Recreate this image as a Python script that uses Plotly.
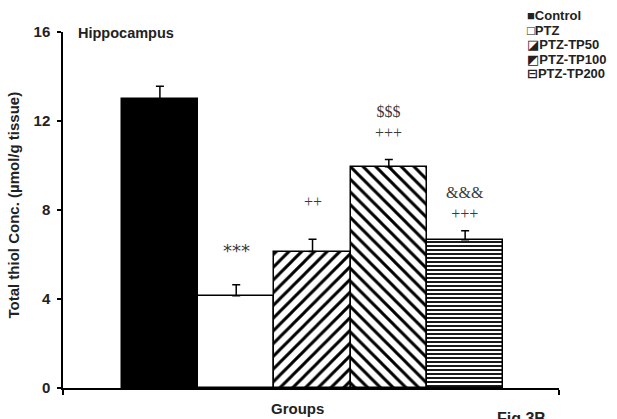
import plotly.graph_objects as go

groups = ["Control", "PTZ", "PTZ-TP50", "PTZ-TP100", "PTZ-TP200"]
means = [12.98, 4.15, 6.13, 9.94, 6.66]
sems = [0.58, 0.49, 0.56, 0.33, 0.41]
sig_labels = ["", "***", "++", "$$$<br>+++", "&&&<br>+++"]
sig_y = [None, 6.2, 8.36, 11.95, 8.3]
legend_glyphs = ["■", "□", "◪", "◩", "⊟"]

fills = ["black", "white", "white", "white", "white"]
shapes_pat = ["", "", "/", "\\", "-"]
pat_size = [8, 8, 9, 9, 4]
pat_sol = [0.3, 0.3, 0.33, 0.33, 0.45]

W, H = 617, 419
WX0, WX1, WY0, WY1 = 63, 559, 31.5, 388.5
L, R, T = WX0, W - WX1, WY0
B = H - WY1
pw, ph = WX1 - WX0, WY1 - WY0


def px(wx):
    return (wx - WX0) / pw


def py(wy):
    return (WY1 - wy) / ph


fig = go.Figure()
for i, g in enumerate(groups):
    fig.add_trace(go.Bar(
        x=[i], y=[means[i]], name=g, width=1.0,
        marker=dict(color=fills[i], line=dict(color="black", width=1.5),
                    pattern=dict(shape=shapes_pat[i], fgcolor="black", bgcolor="white",
                                 size=pat_size[i], solidity=pat_sol[i], fillmode="replace")),
        error_y=dict(type="data", array=[sems[i]], arrayminus=[0], symmetric=False,
                     color="black", thickness=1.5, width=4),
        showlegend=False,
    ))

annots = []
for i, s in enumerate(sig_labels):
    if not s:
        continue
    star = s.startswith("*")
    annots.append(dict(x=i, y=sig_y[i], xref="x", yref="y", text=s, showarrow=False,
                       font=dict(family="DejaVu Sans" if star else "Liberation Serif",
                                 size=18 if star else 16, color="#3a3a3a"),
                       align="center", xanchor="center", yanchor="middle"))

leg_y = [15, 30, 44.5, 59, 73.5]
for i, g in enumerate(groups):
    annots.append(dict(x=px(525), y=py(leg_y[i]), xref="paper", yref="paper",
                       text="<b>" + legend_glyphs[i] + g + "</b>", showarrow=False,
                       xanchor="left", yanchor="middle",
                       font=dict(family="Liberation Sans, DejaVu Sans", size=13, color="#222")))

annots.append(dict(x=px(76), y=py(33), xref="paper", yref="paper",
                   text="<b>Hippocampus</b>", showarrow=False, xanchor="left", yanchor="middle",
                   font=dict(family="Liberation Sans", size=14.5, color="#222")))
annots.append(dict(x=px(13.5), y=py(205), xref="paper", yref="paper",
                   text="<b>Total thiol Conc. (µmol/g tissue)</b>", showarrow=False, textangle=-90,
                   xanchor="center", yanchor="middle",
                   font=dict(family="Liberation Sans", size=15, color="#222")))
annots.append(dict(x=px(297), y=py(409), xref="paper", yref="paper",
                   text="<b>Groups</b>", showarrow=False, xanchor="center", yanchor="middle",
                   font=dict(family="Liberation Sans", size=15, color="#222")))
annots.append(dict(x=px(495), y=py(409), xref="paper", yref="paper",
                   text="<b>Fig 3B</b>", showarrow=False, xanchor="left", yanchor="top",
                   font=dict(family="Liberation Sans", size=16, color="#222")))

fig.update_layout(
    width=W, height=H, margin=dict(l=L, r=R, t=T, b=B, pad=0),
    plot_bgcolor="white", paper_bgcolor="white", bargap=0,
    annotations=annots,
    xaxis=dict(range=[-1.27, 5.23], showgrid=False, zeroline=False, showline=True,
               linecolor="black", linewidth=1.5, tickvals=[-1.27, 5.23], ticktext=["", ""],
               ticks="outside", ticklen=5, tickcolor="black", tickwidth=1.5),
    yaxis=dict(range=[0, 16], tickvals=[0, 4, 8, 12, 16], showgrid=False, zeroline=False,
               showline=True, linecolor="black", linewidth=1.5, ticks="outside", ticklen=4,
               tickcolor="black", tickwidth=1.5, ticklabelstandoff=4,
               tickfont=dict(family="Liberation Sans", size=15, color="#222", weight="bold")),
)

fig.write_html("out.html", config={"displayModeBar": False},
               post_script="document.body.style.margin='0px';")
